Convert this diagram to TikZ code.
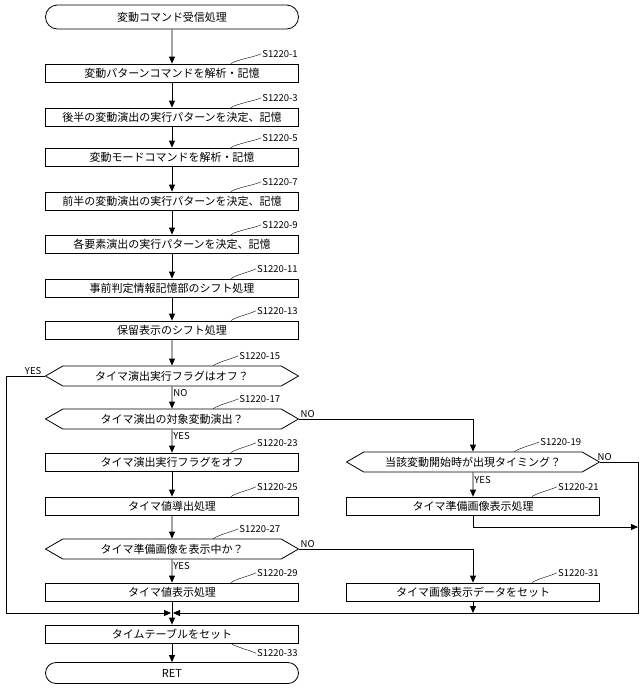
\documentclass[tikz,border=0pt]{standalone}
\usepackage{fontspec}
\setmainfont{Noto Sans CJK JP}
\usepackage{tikz}
\usetikzlibrary{positioning,arrows.meta,shapes.misc,shapes.symbols}

\tikzset{
  proc/.style={draw, thick, minimum width=253pt, minimum height=18pt, inner sep=0pt, font=\fontsize{11}{11}\selectfont},
  cond/.style={draw, thick, signal, signal to=west and east, signal pointer angle=60, minimum width=253pt, minimum height=20pt, inner sep=0pt, font=\fontsize{11}{11}\selectfont},
  term/.style={draw, thick, rounded rectangle, minimum width=253pt, minimum height=24pt, inner sep=0pt, font=\fontsize{11}{11}\selectfont},
  flow/.style={thick, -{Triangle[length=7pt,width=6pt]}},
  yn/.style={font=\fontsize{9.5}{9.5}\selectfont, inner sep=1pt},
  step label/.style={font=\fontsize{9.5}{9.5}\selectfont, inner sep=1pt}
}
\newcommand{\stepno}[2]{% step number with squiggle above a box
  \node[step label, anchor=south east] (#1-no) at ([yshift=5pt]#1.north east) {#2};
  \draw ([xshift=-68pt]#1.north east) .. controls +(6pt,4pt) and +(-6pt,-3pt) .. (#1-no.west);}

\begin{document}
\begin{tikzpicture}[x=1pt, y=-1pt]
\useasboundingbox (0,0) rectangle (640,689);

\node[term] (start) at (172,17) {変動コマンド受信処理};
\node[proc] (s1)  at (172,73)  {変動パターンコマンドを解析・記憶};
\node[proc] (s3)  at (172,117) {後半の変動演出の実行パターンを決定、記憶};
\node[proc] (s5)  at (172,157) {変動モードコマンドを解析・記憶};
\node[proc] (s7)  at (172,201) {前半の変動演出の実行パターンを決定、記憶};
\node[proc] (s9)  at (172,244) {各要素演出の実行パターンを決定、記憶};
\node[proc] (s11) at (172,288) {事前判定情報記憶部のシフト処理};
\node[proc] (s13) at (172,330) {保留表示のシフト処理};
\node[cond] (s15) at (172,376) {タイマ演出実行フラグはオフ？};
\node[cond] (s17) at (172,419) {タイマ演出の対象変動演出？};
\node[proc] (s23) at (172,462) {タイマ演出実行フラグをオフ};
\node[proc] (s25) at (172,506) {タイマ値導出処理};
\node[cond] (s27) at (172,549) {タイマ準備画像を表示中か？};
\node[proc] (s29) at (172,592) {タイマ値表示処理};
\node[cond] (s19) at (473,462) {当該変動開始時が出現タイミング？};
\node[proc] (s21) at (473,506) {タイマ準備画像表示処理};
\node[proc] (s31) at (473,592) {タイマ画像表示データをセット};
\coordinate (join) at (172,613);
\node[proc] (s33) at (172,634) {タイムテーブルをセット};
\node[term, minimum height=21pt] (ret) at (172,673) {RET};

\stepno{s1}{S1220-1}
\stepno{s3}{S1220-3}
\stepno{s5}{S1220-5}
\stepno{s7}{S1220-7}
\stepno{s9}{S1220-9}
\stepno{s11}{S1220-11}
\stepno{s13}{S1220-13}
\stepno{s15}{S1220-15}
\stepno{s17}{S1220-17}
\stepno{s23}{S1220-23}
\stepno{s25}{S1220-25}
\stepno{s27}{S1220-27}
\stepno{s29}{S1220-29}
\stepno{s19}{S1220-19}
\stepno{s21}{S1220-21}
\stepno{s31}{S1220-31}
\node[step label, anchor=north east] (s33-no) at ([yshift=-5pt]s33.south east) {S1220-33};
\draw ([xshift=-68pt]s33.south east) .. controls +(6pt,-4pt) and +(-6pt,3pt) .. (s33-no.west);

% main column
\foreach \a/\b in {start/s1, s1/s3, s3/s5, s5/s7, s7/s9, s9/s11, s11/s13, s13/s15, s23/s25, s25/s27}
  \draw[flow] (\a) -- (\b);
\draw[flow] (s15) -- node[yn, right, pos=0.3] {NO} (s17);
\draw[flow] (s17) -- node[yn, right, pos=0.3] {YES} (s23);
\draw[flow] (s27) -- node[yn, right, pos=0.3] {YES} (s29);
\draw[flow] (s19) -- node[yn, right, pos=0.3] {YES} (s21);
\draw[thick] (s29) -- (join);
\draw[flow] (join) -- (s33);
\draw[flow] (s33) -- (ret);

% branches
\draw[flow] (s15.west) node[yn, above left, xshift=-2pt] {YES} -| (6,613) -- ([xshift=-1pt]join);
\draw[flow] (s17.east) node[yn, above right] {NO} -| (s19.north);
\draw[flow] (s27.east) node[yn, above right] {NO} -| (s31.north);
\draw[flow] (s19.east) node[yn, above right, xshift=-4pt] {NO} -| (638,613) -- ([xshift=1pt]join);
\draw[flow] (s21.south) |- (638,527);
\draw[flow] (s31.south) -- (473,613);
\end{tikzpicture}
\end{document}
